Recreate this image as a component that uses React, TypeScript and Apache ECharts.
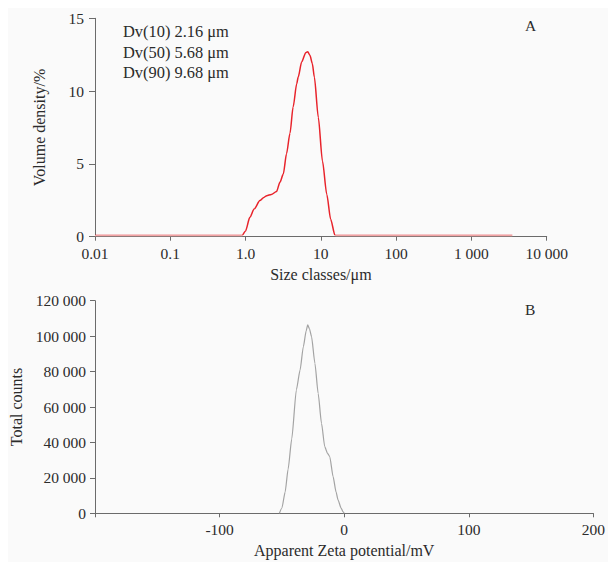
import React, { useEffect, useRef } from "react";
import * as echarts from "echarts";

// Panel A: volume density vs particle size (log scale)
const sizeClasses = [0.01, 0.1, 0.5, 0.9, 1.0, 1.14, 1.3, 1.55, 1.75, 1.91, 2.2, 2.58, 2.86, 3.17, 3.5, 3.89, 4.28, 4.78, 5.0, 5.56, 6.3, 6.7, 7.16, 7.7, 8.2, 9.25, 10.5, 12.0, 13.5, 15.4, 16.5, 20, 100, 1000, 3500];
const volumeDensity = [0.08, 0.08, 0.08, 0.08, 0.4, 1.33, 1.9, 2.48, 2.7, 2.82, 2.9, 3.1, 3.74, 4.3, 5.7, 7.1, 8.9, 10.5, 10.96, 12.0, 12.64, 12.7, 12.46, 11.9, 10.96, 8.2, 5.2, 2.9, 1.2, 0.1, 0.08, 0.08, 0.08, 0.08, 0.08];
const sizeTickLabels = ["0.01", "0.1", "1.0", "10", "100", "1 000", "10 000"];
const dvLines = ["Dv(10) 2.16 μm", "Dv(50) 5.68 μm", "Dv(90) 9.68 μm"];

// Panel B: total counts vs apparent zeta potential
const zetaPotential = [-52, -50, -47.4, -45, -42.1, -38.4, -35.4, -32.8, -30.5, -29.3, -27.8, -26.2, -23.5, -20.9, -18.2, -15.6, -13.5, -11.6, -8.9, -6.5, -4.9, -2.5, -1, 0];
const totalCounts = [0, 3000, 12000, 25000, 42000, 69600, 80900, 94000, 103000, 106300, 104000, 99700, 84700, 67700, 50800, 37600, 34000, 32000, 20700, 12000, 7500, 3000, 900, 0];

const FONT = '"Liberation Serif", "Times New Roman", serif';
const AXIS_COLOR = "#6b6b6b";
const TEXT_COLOR = "#2b2b2b";

const spaced = (v: number) => String(v).replace(/\B(?=(\d{3})+(?!\d))/g, " ");

export default function App() {
  const ref = useRef<HTMLDivElement>(null);
  useEffect(() => {
    if (!ref.current) return;
    const chart = echarts.init(ref.current, undefined, { renderer: "svg" });
    const axisLine = { show: true, onZero: false, lineStyle: { color: AXIS_COLOR, width: 1 } };
    const axisLabelBase = { color: TEXT_COLOR, fontFamily: FONT, fontSize: 15.5 };
    const nameStyle = { color: TEXT_COLOR, fontFamily: FONT, fontSize: 16 };
    // red curve, fading to pink where it lies on the baseline
    const redStroke = new echarts.graphic.LinearGradient(
      0, 237, 0, 233,
      [
        { offset: 0, color: "#f0a3a3" },
        { offset: 0.5, color: "#f0a3a3" },
        { offset: 0.5, color: "#e8232b" },
        { offset: 1, color: "#e8232b" },
      ],
      true
    );
    chart.setOption({
      animation: false,
      backgroundColor: "#ffffff",
      graphic: [
        { type: "rect", z: -10, shape: { x: 8, y: 8, width: 600, height: 554 }, style: { fill: "#fafafa" } },
        ...dvLines.map((t, i) => ({
          type: "text",
          left: 123,
          top: 23.5 + i * 20.5,
          style: { text: t, fill: TEXT_COLOR, fontFamily: FONT, fontSize: 16.4 },
        })),
        { type: "text", left: 525, top: 17.5, style: { text: "A", fill: TEXT_COLOR, fontFamily: FONT, fontSize: 15.5 } },
        { type: "text", left: 525, top: 301, style: { text: "B", fill: TEXT_COLOR, fontFamily: FONT, fontSize: 15.5 } },
      ],
      grid: [
        { left: 95, top: 18.3, width: 451.7, height: 218.4 },
        { left: 95, top: 300.7, width: 504.3, height: 212.6 },
      ],
      xAxis: [
        {
          gridIndex: 0,
          type: "log",
          logBase: 10,
          min: 0.01,
          max: 10000,
          splitNumber: 6,
          name: "Size classes/μm",
          nameLocation: "middle",
          nameGap: 30,
          nameTextStyle: nameStyle,
          axisLine,
          axisTick: { show: true, length: 4, lineStyle: { color: AXIS_COLOR } },
          splitLine: { show: false },
          axisLabel: {
            ...axisLabelBase,
            margin: 9,
            formatter: (v: number) => sizeTickLabels[Math.round(Math.log10(v)) + 2] ?? "",
          },
        },
        {
          gridIndex: 1,
          type: "value",
          min: -200,
          max: 200,
          interval: 100,
          name: "Apparent Zeta potential/mV",
          nameLocation: "middle",
          nameGap: 29,
          nameTextStyle: nameStyle,
          axisLine,
          axisTick: { show: true, length: 4, lineStyle: { color: AXIS_COLOR } },
          splitLine: { show: false },
          axisLabel: {
            ...axisLabelBase,
            margin: 8,
            formatter: (v: number) => (v === -200 ? "" : String(v)),
          },
        },
      ],
      yAxis: [
        {
          gridIndex: 0,
          type: "value",
          min: 0,
          max: 15,
          interval: 5,
          name: "Volume density/%",
          nameLocation: "middle",
          nameGap: 48,
          nameTextStyle: nameStyle,
          axisLine,
          axisTick: { show: true, length: 6, lineStyle: { color: AXIS_COLOR } },
          splitLine: { show: false },
          axisLabel: { ...axisLabelBase, margin: 11 },
        },
        {
          gridIndex: 1,
          type: "value",
          min: 0,
          max: 120000,
          interval: 20000,
          name: "Total counts",
          nameLocation: "middle",
          nameGap: 66,
          nameTextStyle: nameStyle,
          axisLine,
          axisTick: { show: true, length: 5, lineStyle: { color: AXIS_COLOR } },
          splitLine: { show: false },
          axisLabel: { ...axisLabelBase, margin: 9, formatter: (v: number) => spaced(v) },
        },
      ],
      series: [
        {
          type: "line",
          xAxisIndex: 0,
          yAxisIndex: 0,
          data: sizeClasses.map((x, i) => [x, volumeDensity[i]]),
          showSymbol: false,
          smooth: 0.25,
          smoothMonotone: "x",
          lineStyle: { width: 1.5, color: redStroke },
          itemStyle: { color: "#e8232b" },
        },
        {
          type: "line",
          xAxisIndex: 1,
          yAxisIndex: 1,
          data: zetaPotential.map((x, i) => [x, totalCounts[i]]),
          showSymbol: false,
          smooth: 0.2,
          smoothMonotone: "x",
          lineStyle: { width: 1.2, color: "#a3a3a3" },
          itemStyle: { color: "#a3a3a3" },
        },
      ],
    });
    return () => chart.dispose();
  }, []);
  return (
    <div
      ref={ref}
      style={{ position: "fixed", left: 0, top: 0, width: 608, height: 562, background: "#ffffff" }}
    />
  );
}
